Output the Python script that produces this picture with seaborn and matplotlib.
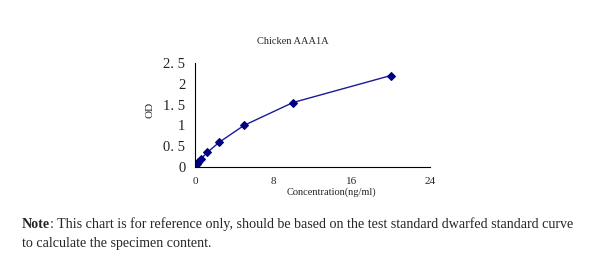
import matplotlib
matplotlib.use("Agg")
import matplotlib.pyplot as plt
import seaborn as sns
import pandas as pd

conc = [0, 0.156, 0.312, 0.625, 1.25, 2.5, 5, 10, 20]
od = [0.03, 0.08, 0.13, 0.2, 0.35, 0.6, 1.0, 1.55, 2.2]
x_ticks = [0, 8, 16, 24]
y_ticks = [0, 0.5, 1, 1.5, 2, 2.5]
y_tick_labels = ["0", "0. 5", "1", "1. 5", "2", "2. 5"]
title = "Chicken AAA1A"
xlabel = "Concentration(ng/ml)"
ylabel = "OD"
note_bold = "Note"
note_line1 = ": This chart is for reference only, should be based on the test standard dwarfed standard curve"
note_line2 = "to calculate the specimen content."

sns.set_style("white")
plt.rcParams['font.family'] = ['Liberation Serif', 'DejaVu Serif']

df = pd.DataFrame({"conc": conc, "od": od})

fig = plt.figure(figsize=(6, 2.7), dpi=100)
ax = fig.add_axes([0.325, 0.3815, 0.3917, 0.385])
sns.lineplot(data=df, x="conc", y="od", ax=ax, color="#1a1a9a", linewidth=1.0,
             marker="D", markersize=4.5, markerfacecolor="#000080",
             markeredgecolor="#000080")
ax.set_xlim(0, 24)
ax.set_ylim(0, 2.5)
ax.set_xticks(x_ticks)
ax.set_xticklabels([str(t) for t in x_ticks], fontsize=8)
ax.set_yticks(y_ticks)
ax.set_yticklabels(y_tick_labels, fontsize=10.5, color="#222222")
for s in ["top", "right"]:
    ax.spines[s].set_visible(False)
for s in ["left", "bottom"]:
    ax.spines[s].set_color("black")
    ax.spines[s].set_linewidth(0.8)
ax.tick_params(axis="both", direction="out", length=4, width=0.8, color="black", pad=3)
ax.set_xlabel("")
ax.set_ylabel("")
fig.text(331/600, 1 - 192/270, xlabel, fontsize=7.5, ha="center", va="center")
fig.text(150/600, 1 - 110/270, ylabel, fontsize=8, ha="center", va="center", rotation=90)
fig.text(293/600, 1 - 42/270, title, fontsize=7.5, ha="center", va="center")

fs = 10.1
tb = fig.text(22/600, 1 - 224/270, note_bold, fontsize=fs, fontweight="bold", va="center", ha="left")
fig.canvas.draw()
bb = tb.get_window_extent(renderer=fig.canvas.get_renderer())
fig.text(bb.x1 / fig.bbox.width, 1 - 224/270, note_line1, fontsize=fs, va="center", ha="left")
fig.text(22/600, 1 - 244/270, note_line2, fontsize=fs, va="center", ha="left")
fig.savefig("out.png", dpi=100)
